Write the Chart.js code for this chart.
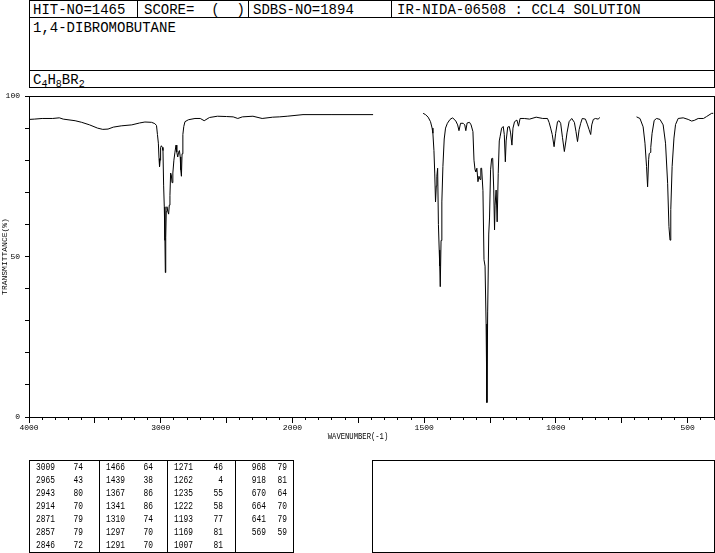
<!DOCTYPE html>
<html>
<head>
<meta charset="utf-8">
<script src="https://cdn.jsdelivr.net/npm/chart.js@4.4.0/dist/chart.umd.min.js"></script>
<style>
  html, body { margin: 0; padding: 0; background: #fff; }
  body { width: 715px; height: 553px; position: relative; overflow: hidden;
         font-family: "Liberation Mono", "DejaVu Sans Mono", monospace; color: #000; }
  #chart { position: absolute; left: 0; top: 0; }
  .box { position: absolute; border: 1px solid #000; box-sizing: border-box; }
  .hl { position: absolute; height: 1px; background: #000; }
  .vl { position: absolute; width: 1px; background: #000; }
  .t { position: absolute; white-space: pre; font-size: 14px; line-height: 14px; }
  .t sub { font-size: 10px; vertical-align: -3px; line-height: 0; }
  .cell { position: absolute; width: 30px; white-space: pre; font-size: 11px; line-height: 13px;
          text-align: right; transform: scaleX(0.72); transform-origin: right center; }
  .xtitle { position: absolute; left: 298px; top: 432px; width: 120px; text-align: center;
            font-size: 9px; line-height: 11px; transform: scaleX(0.8); }
</style>
</head>
<body>
<!-- header block -->
<div class="box" style="left:29px;top:0;width:686px;height:88px"></div>
<div class="hl" style="left:29px;top:17px;width:686px"></div>
<div class="hl" style="left:29px;top:70px;width:686px"></div>
<div class="vl" style="left:137px;top:0;height:18px"></div>
<div class="vl" style="left:248px;top:0;height:18px"></div>
<div class="vl" style="left:391px;top:0;height:18px"></div>
<div class="t" style="left:33px;top:3px">HIT-NO=1465</div>
<div class="t" style="left:144px;top:3px">SCORE=  (  )</div>
<div class="t" style="left:253px;top:3px">SDBS-NO=1894</div>
<div class="t" style="left:397px;top:3px">IR-NIDA-06508 : CCL4 SOLUTION</div>
<div class="t" style="left:33px;top:21px">1,4-DIBROMOBUTANE</div>
<div class="t" style="left:33px;top:73px">C<sub>4</sub>H<sub>8</sub>BR<sub>2</sub></div>

<canvas id="chart" width="715" height="553"></canvas>
<div class="xtitle">WAVENUMBER(-1)</div>

<!-- peak table -->
<div class="box" style="left:29px;top:460px;width:265px;height:93px"></div>
<div class="vl" style="left:99px;top:460px;height:93px"></div>
<div class="vl" style="left:167px;top:460px;height:93px"></div>
<div class="vl" style="left:235px;top:460px;height:93px"></div>
<div class="box" style="left:372px;top:460px;width:343px;height:93px"></div>
<div id="peaks"></div>

<script>
// spectrum segments (wavenumber cm-1, transmittance %)
const SEG1_WN = [4000, 3960, 3900, 3820, 3770, 3740, 3650, 3600, 3540, 3480, 3440, 3400, 3360, 3300, 3220, 3160, 3120, 3070, 3045, 3032,
  3025, 3018, 3013, 3009, 3005, 3001, 2995, 2988, 2983, 2978, 2973, 2968, 2965, 2962, 2958, 2953, 2946, 2940, 2935, 2930,
  2925, 2920, 2914, 2908, 2900, 2892, 2884, 2878, 2871, 2864, 2858, 2852, 2848, 2843, 2838, 2832, 2825, 2816, 2790, 2740,
  2700, 2670, 2630, 2570, 2500, 2450, 2415, 2380, 2300, 2230, 2150, 2100, 2040, 1960, 1850, 1694];
const SEG1_T = [92.7, 92.8, 93.0, 93.0, 93.2, 92.8, 92.3, 91.8, 91.0, 90.0, 89.6, 89.7, 90.3, 90.7, 91.0, 91.6, 91.9, 91.8, 91.4, 90.8,
  88, 85.3, 80.5, 78, 80, 84, 84.5, 84, 83, 72, 65.5, 55, 45, 56, 64, 65.5, 64, 63.2, 66, 69,
  76, 75.5, 73, 76, 80, 82.5, 84.7, 82.5, 81, 82.5, 83, 81, 77, 75, 82, 88, 90.5, 92, 92.6, 93,
  93, 92.3, 93.3, 93.7, 93.6, 93.5, 93, 93.5, 93.7, 93, 93.4, 93.5, 93.7, 94.2, 94.2, 94.2];

const SEG2_WN = [1504, 1495, 1485, 1476, 1470, 1467, 1463, 1460, 1457, 1454, 1452, 1449, 1446, 1443, 1441, 1439, 1436, 1433, 1429, 1424,
  1419, 1412, 1402, 1392, 1380, 1373, 1368, 1362, 1352, 1346, 1342, 1337, 1328, 1322, 1315, 1311, 1307, 1304, 1300, 1296,
  1292, 1288, 1285, 1282, 1277, 1273, 1269, 1265, 1262, 1259, 1255, 1252, 1248, 1244, 1240, 1236, 1233, 1231, 1227, 1223,
  1219, 1215, 1212, 1206, 1200, 1196, 1192, 1189, 1183, 1177, 1172, 1167, 1163, 1157, 1148, 1142, 1136, 1120, 1100, 1075,
  1050, 1032, 1026, 1020, 1014, 1007, 1001, 994, 988, 982, 975, 968, 962, 958, 950, 940, 930, 924, 918, 912,
  906, 900, 888, 880, 874, 868, 864, 858, 850, 840, 833];
const SEG2_T = [94.6, 94.2, 93.4, 92, 90, 88.4, 83, 76, 67, 72, 75, 77.5, 60, 52, 47, 40.6, 55, 67, 78, 86.6,
  90, 91.5, 92.7, 93.2, 92.2, 91, 89.2, 91.5, 91.5, 91, 89.2, 91.6, 91.8, 91, 88.9, 80, 77, 76.4, 77.5, 73.3,
  75, 74, 77.5, 77.5, 70.5, 49, 47, 29, 4.5, 33, 57, 62, 77, 80.5, 80.6, 70.7, 58.3, 66, 70.7, 60.8,
  75.9, 86, 87.3, 90, 90.5, 88, 79.5, 86, 90.3, 90.5, 88.5, 84.7, 90, 92, 92.5, 90.6, 93, 93, 92.8, 93.4,
  93, 93, 91.8, 90, 88, 84.2, 88.4, 92, 92.3, 91.5, 87, 82.7, 86, 88.5, 92, 93, 91.8, 89, 85.8, 89.5,
  91.5, 93, 92.8, 91, 89.5, 88, 91, 92.7, 93, 92.8, 93.3];

const SEG3_WN = [694, 681, 669, 662, 656, 652, 648, 646, 642, 640, 635, 627, 618, 605, 593, 584, 576, 571, 567, 564,
  559, 552, 546, 536, 517, 498, 485, 475, 460, 440, 428, 409, 403];
const SEG3_T = [93.5, 93, 90.4, 85.3, 78, 71.7, 80.3, 82, 82.4, 84, 88.4, 92.4, 93, 92.7, 91, 85.3, 72.8, 59.3, 55.1, 64.6,
  78, 86.9, 91.1, 93, 93.2, 92.7, 92.2, 92.4, 93, 93, 93.6, 94.6, 94.6];

// axis ticks
const MAJOR_TICKS = [4000, 3500, 3000, 2500, 2000, 1750, 1500, 1250, 1000, 750, 500];
const X_LABELS = [4000, 3000, 2000, 1500, 1000, 500];
const MINOR_TICKS = [];
for (let v = 4000; v > 2000; v -= 100) MINOR_TICKS.push(v);
for (let v = 2000; v >= 400; v -= 50) MINOR_TICKS.push(v);
const Y_LABELS = [0, 50, 100];

// peak table
const PEAK_WN = [3009, 2965, 2943, 2914, 2871, 2857, 2846, 1466, 1439, 1367, 1341, 1310, 1297, 1291,
  1271, 1262, 1235, 1222, 1193, 1169, 1007, 968, 918, 670, 664, 641, 569];
const PEAK_T = [74, 43, 80, 70, 79, 79, 72, 64, 38, 86, 86, 74, 70, 70,
  46, 4, 55, 58, 77, 81, 81, 79, 81, 64, 70, 79, 59];

const FONT = "'Liberation Mono', 'DejaVu Sans Mono', monospace";

// fill the peak table
(function () {
  const wnRight = [55, 125, 193, 266];
  const tRight = [83, 153, 223, 287];
  const host = document.getElementById('peaks');
  PEAK_WN.forEach((wn, i) => {
    const col = Math.floor(i / 7), row = i % 7;
    const top = 461 + row * 13;
    [[wn, wnRight[col]], [PEAK_T[i], tRight[col]]].forEach(([txt, right]) => {
      const d = document.createElement('div');
      d.className = 'cell';
      d.style.left = (right - 30) + 'px';
      d.style.top = top + 'px';
      d.textContent = String(txt);
      host.appendChild(d);
    });
  });
})();

// x axis: 4000-2000 at half scale, 2000-400 at full scale
const TICK_SETS = { x: MAJOR_TICKS, x2: MINOR_TICKS };
class WaveScale extends Chart.LinearScale {
  buildTicks() {
    return (TICK_SETS[this.id] || []).map(v => ({ value: v }));
  }
  getPixelForValue(v) {
    const u = v >= 2000 ? (4000 - v) / 2 : 1000 + (2000 - v);
    return this.left + this.width * u / 2600;
  }
  getValueForPixel(p) {
    const u = (p - this.left) / this.width * 2600;
    return u <= 1000 ? 4000 - 2 * u : 2000 - (u - 1000);
  }
}
WaveScale.id = 'wavenumber';
WaveScale.defaults = Chart.LinearScale.defaults;
Chart.register(WaveScale);

const framePlugin = {
  id: 'frame',
  afterDraw(chart) {
    const { ctx, chartArea: a } = chart;
    ctx.save();
    ctx.strokeStyle = '#000';
    ctx.lineWidth = 1;
    ctx.beginPath();
    ctx.moveTo(a.left, a.top + 0.5);
    ctx.lineTo(a.right + 1, a.top + 0.5);
    ctx.moveTo(a.right + 0.5, a.top);
    ctx.lineTo(a.right + 0.5, a.bottom + 1);
    ctx.stroke();
    ctx.restore();
  }
};

function toPoints(wn, t) {
  return wn.map((w, i) => ({ x: w, y: t[i] }));
}

Chart.defaults.color = '#000';
Chart.defaults.font.family = FONT;

new Chart(document.getElementById('chart').getContext('2d'), {
  type: 'line',
  data: {
    datasets: [[SEG1_WN, SEG1_T], [SEG2_WN, SEG2_T], [SEG3_WN, SEG3_T]].map(([wn, t]) => ({
      data: toPoints(wn, t),
      borderColor: '#000',
      borderWidth: 1,
      pointRadius: 0,
      tension: 0,
      fill: false,
      xAxisID: 'x',
      yAxisID: 'y'
    }))
  },
  options: {
    responsive: false,
    animation: false,
    layout: { padding: { top: 96, left: 0, right: 1, bottom: 106 } },
    plugins: { legend: { display: false }, tooltip: { enabled: false } },
    scales: {
      x: {
        type: 'wavenumber', position: 'bottom', weight: 1, min: 400, max: 4000,
        grid: { drawOnChartArea: false, tickLength: 6, tickColor: '#000' },
        border: { color: '#000' },
        ticks: {
          autoSkip: false, maxRotation: 0, padding: 0, color: '#000',
          font: { family: FONT, size: 8 },
          callback: v => X_LABELS.includes(v) ? String(v) : ''
        },
        afterFit: s => { s.height = 30; }
      },
      x2: {
        type: 'wavenumber', position: 'bottom', weight: 0, min: 400, max: 4000,
        grid: { drawOnChartArea: false, tickLength: 3, tickColor: '#000' },
        border: { display: false },
        ticks: { display: false, autoSkip: false },
        afterFit: s => { s.height = 0; }
      },
      y: {
        min: 0, max: 100,
        grid: { drawOnChartArea: false, tickLength: 4, tickColor: '#000' },
        border: { color: '#000' },
        ticks: {
          stepSize: 10, autoSkip: false, padding: 5, color: '#000',
          font: { family: FONT, size: 8 },
          callback: v => Y_LABELS.includes(v) ? String(v) : ''
        },
        title: { display: true, text: 'TRANSMITTANCE(%)', color: '#000', padding: 0, font: { family: FONT, size: 8 } },
        afterFit: s => { s.width = 29; }
      }
    }
  },
  plugins: [framePlugin]
});
</script>
</body>
</html>
